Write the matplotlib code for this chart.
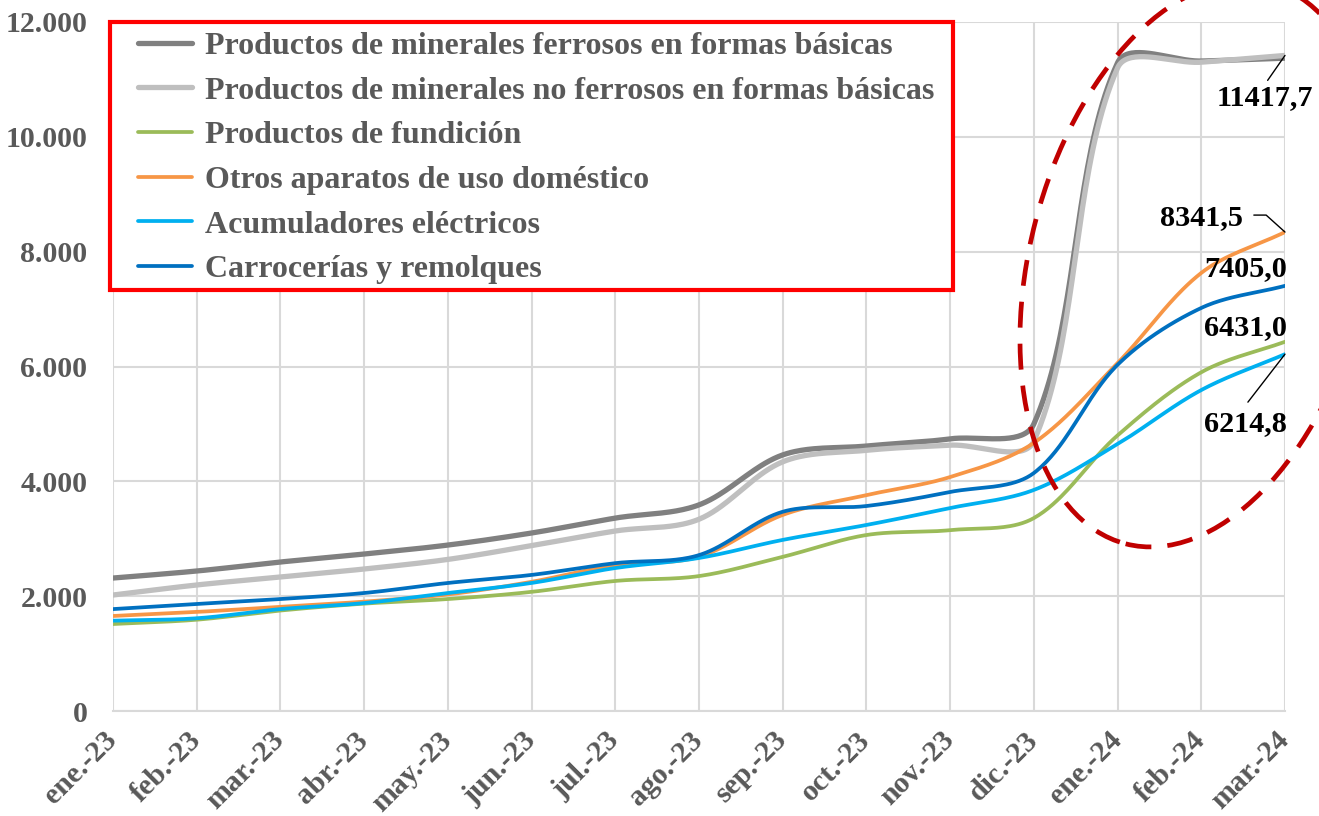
import numpy as np
import matplotlib
matplotlib.use("Agg")
import matplotlib.pyplot as plt
from matplotlib.patches import Ellipse, Rectangle
from matplotlib.transforms import IdentityTransform
from matplotlib.ticker import FuncFormatter, MultipleLocator

# ---------------- data ----------------
months = ['ene.-23', 'feb.-23', 'mar.-23', 'abr.-23', 'may.-23', 'jun.-23', 'jul.-23',
          'ago.-23', 'sep.-23', 'oct.-23', 'nov.-23', 'dic.-23', 'ene.-24', 'feb.-24', 'mar.-24']

ferrosos = [2316, 2438, 2595, 2734, 2890, 3100, 3360, 3590, 4460, 4615, 4740, 5000, 11290, 11320, 11370]
no_ferrosos = [2020, 2195, 2334, 2473, 2640, 2880, 3135, 3340, 4340, 4540, 4630, 4700, 11200, 11300, 11417.7]
fundicion = [1515, 1590, 1750, 1870, 1950, 2075, 2265, 2350, 2685, 3065, 3150, 3360, 4800, 5900, 6431.0]
otros_aparatos = [1655, 1725, 1815, 1905, 2030, 2250, 2540, 2685, 3415, 3760, 4075, 4670, 6060, 7630, 8341.5]
acumuladores = [1573, 1615, 1775, 1880, 2055, 2230, 2490, 2665, 2980, 3240, 3535, 3850, 4650, 5590, 6214.8]
carrocerias = [1775, 1865, 1950, 2055, 2230, 2370, 2575, 2715, 3470, 3570, 3815, 4145, 6030, 7020, 7405.0]

series_names = ['Productos de minerales ferrosos en formas básicas',
                'Productos de minerales no ferrosos en formas básicas',
                'Productos de fundición',
                'Otros aparatos de uso doméstico',
                'Acumuladores eléctricos',
                'Carrocerías y remolques']
series_values = [ferrosos, no_ferrosos, fundicion, otros_aparatos, acumuladores, carrocerias]
series_colors = ['#808080', '#BFBFBF', '#9BBB59', '#F79646', '#00B0F0', '#0070C0']
series_widths = [3.8, 3.8, 2.7, 2.7, 2.7, 2.7]

end_labels = ['11417,7', '8341,5', '7405,0', '6431,0', '6214,8']

# ---------------- figure ----------------
W, H = 1319, 816
fig = plt.figure(figsize=(W / 100, H / 100), dpi=100)
plt.rcParams['font.family'] = ['Liberation Serif', 'DejaVu Serif']
plt.rcParams['font.weight'] = 'bold'

TICK_FS = 21.5
LEG_FS = 23
LAB_FS = 21.8

ax = fig.add_axes([113 / W, 1 - 711 / H, (1285 - 113) / W, (711 - 22) / H])
ax.set_xlim(0, len(months) - 1)
ax.set_ylim(0, 12000)

gridc = '#D9D9D9'
ax.grid(True, color=gridc, linewidth=1.5, zorder=0)
ax.set_axisbelow(True)
for s in ['top', 'right', 'left']:
    ax.spines[s].set_visible(False)
ax.spines['bottom'].set_color(gridc)
ax.spines['bottom'].set_linewidth(1.5)

ax.yaxis.set_major_locator(MultipleLocator(2000))
ax.yaxis.set_major_formatter(FuncFormatter(lambda v, p: f"{v:,.0f}".replace(',', '.')))
ax.set_xticks(range(len(months)))
ax.set_xticklabels(months, rotation=45, ha='right', va='center', rotation_mode='anchor')
ax.tick_params(axis='both', length=0, labelsize=TICK_FS, labelcolor='#595959')
ax.tick_params(axis='y', pad=18.5)
ax.tick_params(axis='x', pad=18)
for lab in ax.get_xticklabels() + ax.get_yticklabels():
    lab.set_fontweight('bold')

x = np.arange(len(months))


def smooth_curve(xv, yv, n=40):
    """Excel-like smoothed line: cubic Bezier with proportional control arms in display space."""
    P = ax.transData.transform(np.column_stack([xv, yv]))
    out = []
    m = len(P)
    for i in range(m - 1):
        P1, P2 = P[i], P[i + 1]
        P0 = P[i - 1] if i > 0 else None
        P3 = P[i + 2] if i + 2 < m else None
        d12 = np.linalg.norm(P2 - P1)
        if P0 is None:
            a1 = (P2 - P1) / 3.0
        else:
            d01 = np.linalg.norm(P1 - P0)
            a1 = (P2 - P0) * d12 / (d01 + d12) / 3.0
        if P3 is None:
            a2 = (P2 - P1) / 3.0
        else:
            d23 = np.linalg.norm(P3 - P2)
            a2 = (P3 - P1) * d12 / (d12 + d23) / 3.0
        C1 = P1 + a1
        C2 = P2 - a2
        t = np.linspace(0, 1, n)[:, None]
        B = ((1 - t) ** 3) * P1 + 3 * ((1 - t) ** 2) * t * C1 + 3 * (1 - t) * t ** 2 * C2 + t ** 3 * P2
        if i > 0:
            B = B[1:]
        out.append(B)
    out = np.vstack(out)
    return ax.transData.inverted().transform(out)


handles = []
for name, vals, col, lw in zip(series_names, series_values, series_colors, series_widths):
    c = smooth_curve(x, vals)
    h, = ax.plot(c[:, 0], c[:, 1], color=col, lw=lw, label=name, solid_capstyle='round', zorder=3)
    handles.append(h)

# ---------------- end value labels ----------------
lab_kw = dict(fontsize=LAB_FS, fontweight='bold', color='black', ha='center', va='center', zorder=6)
last = len(months) - 1
ax.annotate(end_labels[0], xy=(last, no_ferrosos[-1]), xytext=(13.76, 10680),
            arrowprops=dict(arrowstyle='-', color='black', lw=1, shrinkA=1, shrinkB=0, relpos=(0.5, 1.0)),
            annotation_clip=False, **lab_kw)
ax.annotate(end_labels[1], xy=(last, otros_aparatos[-1]), xytext=(13.0, 8590),
            arrowprops=dict(arrowstyle='-', color='black', lw=1, shrinkA=6, shrinkB=0, relpos=(1.0, 0.6),
                            connectionstyle='angle,angleA=0,angleB=138,rad=0'),
            annotation_clip=False, **lab_kw)
ax.text(13.53, 7710, end_labels[2], **lab_kw)
ax.text(13.53, 6670, end_labels[3], **lab_kw)
ax.annotate(end_labels[4], xy=(last, acumuladores[-1]), xytext=(13.53, 5000),
            arrowprops=dict(arrowstyle='-', color='black', lw=1, shrinkA=5, shrinkB=0, relpos=(0.45, 1.0)),
            annotation_clip=False, **lab_kw)

# ---------------- legend ----------------
frame = Rectangle((110, H - 290), 953 - 110, 290 - 22, transform=IdentityTransform(),
                  facecolor='white', edgecolor='#FF0000', linewidth=3.0, zorder=4.5, clip_on=False)
ax.add_patch(frame)
leg = ax.legend(handles=handles, loc='upper left', bbox_to_anchor=(138 / W, 1 - 31.5 / H),
                bbox_transform=fig.transFigure, frameon=False,
                prop={'family': 'Liberation Serif', 'weight': 'bold', 'size': LEG_FS},
                handlelength=1.7, handletextpad=0.4, labelspacing=0.48, borderpad=0,
                borderaxespad=0)
leg.set_zorder(5)
for t in leg.get_texts():
    t.set_color('#595959')

# ---------------- highlight ellipse ----------------
ell = Ellipse((1198, H - 264), width=336, height=578, angle=-14.5,
              transform=IdentityTransform(), fill=False, edgecolor='#C00000',
              linewidth=3.4, linestyle=(0, (5.5, 3.4)), clip_on=False, zorder=7)
fig.add_artist(ell)

fig.savefig('out.png', dpi=100)
